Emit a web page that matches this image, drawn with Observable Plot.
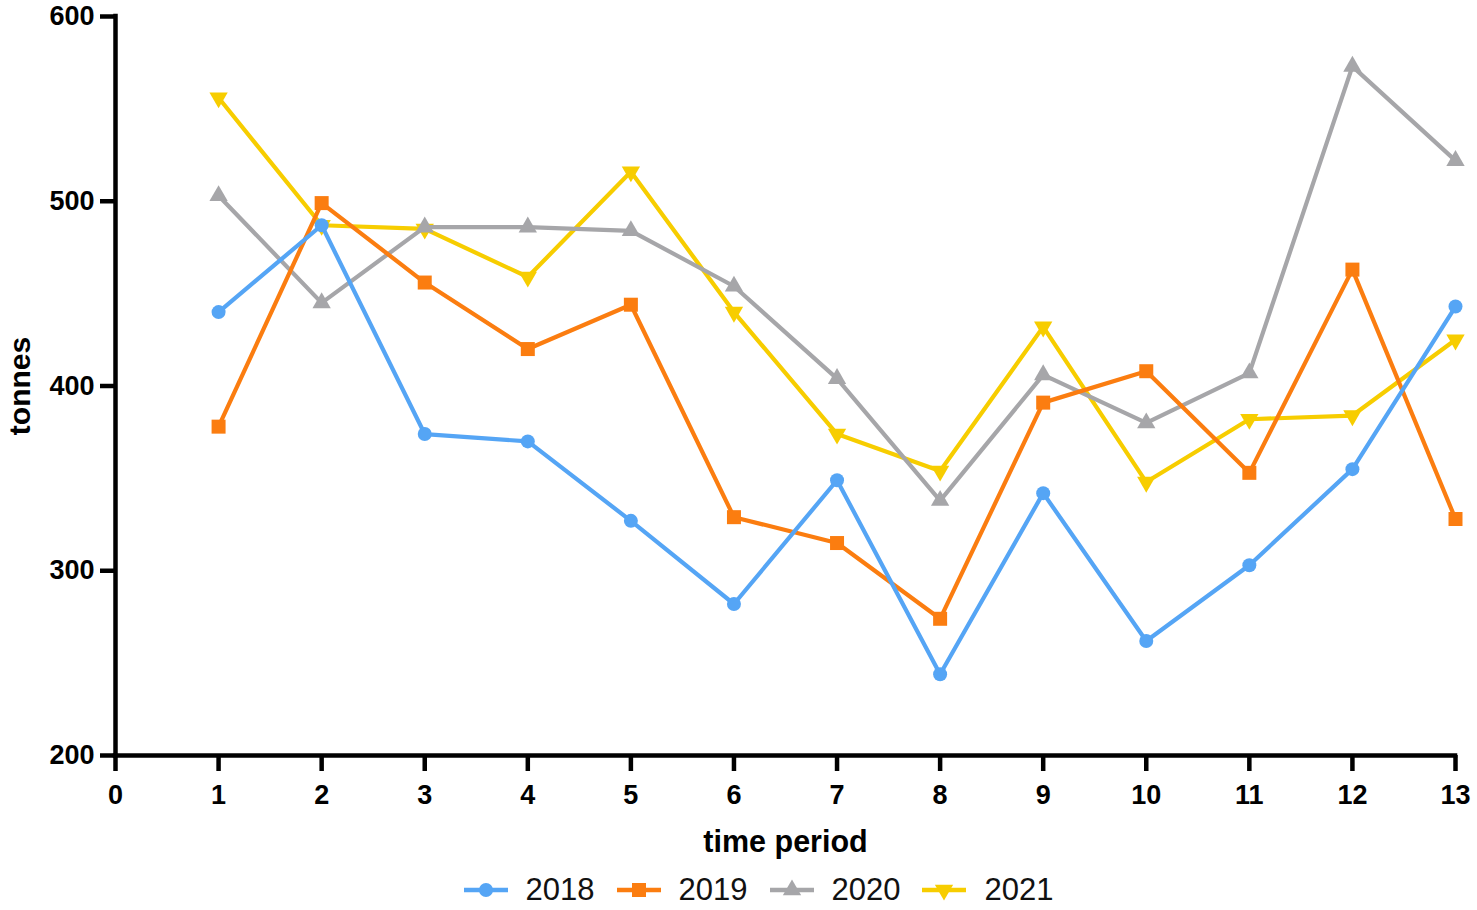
<!DOCTYPE html>
<html>
<head>
<meta charset="utf-8">
<script src="https://cdn.jsdelivr.net/npm/d3@7"></script>
<script src="https://cdn.jsdelivr.net/npm/@observablehq/plot@0.6"></script>
<style>
  body { margin: 0; background: #fff; font-family: "Liberation Sans", Arial, sans-serif; }
  #legend { display: flex; justify-content: center; align-items: center; height: 50px; padding-top: 5px; margin-left: 40px; font-size: 31px; color: #111; }
  .item { display: flex; align-items: center; margin: 0 11px; }
  .item svg { margin-right: 18px; }
</style>
</head>
<body>
<div id="chart"></div>
<div id="legend"></div>
<script>
const periods = [1, 2, 3, 4, 5, 6, 7, 8, 9, 10, 11, 12, 13];
const years = ["2018", "2019", "2020", "2021"];
const s2018 = [440, 487, 374, 370, 327, 282, 349, 244, 342, 262, 303, 355, 443];
const s2019 = [378, 499, 456, 420, 444, 329, 315, 274, 391, 408, 353, 463, 328];
const s2020 = [503, 445, 486, 486, 484, 454, 404, 338, 406, 380, 407, 573, 522];
const s2021 = [556, 487, 485, 459, 516, 440, 374, 354, 432, 348, 382, 384, 425];
const colors = ["#55a5f5", "#fb7d10", "#a6a6a9", "#f7cd00"];
const symbols = ["circle", "square", "triangle", "triangle"];
const radii = [7, 7.9, 6.8, 6.8];
const rotations = [0, 0, 0, 180];
const yTicks = [200, 300, 400, 500, 600];
const xTicks = [0, 1, 2, 3, 4, 5, 6, 7, 8, 9, 10, 11, 12, 13];

const seriesValues = [s2018, s2019, s2020, s2021];
const data = years.flatMap((yr, i) => periods.map((p, j) => ({year: yr, period: p, value: seriesValues[i][j]})));

const seriesMarks = [];
for (let i = years.length - 1; i >= 0; i--) {
  const yr = years[i];
  const sub = data.filter(d => d.year === yr);
  seriesMarks.push(Plot.line(sub, {x: "period", y: "value", stroke: colors[i], strokeWidth: 4.2}));
  seriesMarks.push(Plot.dot(sub, {x: "period", y: "value", fill: colors[i], stroke: "none", symbol: symbols[i], r: radii[i], rotate: rotations[i]}));
}

const chart = Plot.plot({
  width: 1477,
  height: 860,
  marginLeft: 115,
  marginRight: 22,
  marginTop: 16,
  marginBottom: 105,
  style: {fontFamily: "'Liberation Sans', Arial, sans-serif", color: "#000", background: "#fff"},
  x: {domain: [0, 13]},
  y: {domain: [200, 600]},
  marks: [
    Plot.axisY({ticks: yTicks, tickSize: 15, strokeWidth: 4.5, stroke: "#000", tickPadding: 6, fontSize: 27, fontWeight: "bold", fill: "#000", label: null}),
    Plot.axisX({ticks: xTicks, tickSize: 16, strokeWidth: 4.5, stroke: "#000", tickPadding: 13, fontSize: 27, fontWeight: "bold", fill: "#000", label: null}),
    ...seriesMarks,
    Plot.ruleX([0], {y1: 200, y2: 600, strokeWidth: 4.5, stroke: "#000", strokeLinecap: "square"}),
    Plot.ruleY([200], {x1: 0, x2: 13, strokeWidth: 4.5, stroke: "#000", strokeLinecap: "square"}),
    Plot.text(["tonnes"], {text: d => d, frameAnchor: "left", textAnchor: "middle", dx: -95, rotate: -90, fontSize: 30, fontWeight: "bold", fill: "#000"}),
    Plot.text(["time period"], {text: d => d, frameAnchor: "bottom", dy: 96, fontSize: 30.5, fontWeight: "bold", fill: "#000"})
  ]
});
document.getElementById("chart").appendChild(chart);

// legend
const legend = d3.select("#legend");
years.forEach((yr, i) => {
  const item = legend.append("div").attr("class", "item");
  const svg = item.append("svg").attr("width", 44).attr("height", 22);
  svg.append("line").attr("x1", 0).attr("x2", 44).attr("y1", 11).attr("y2", 11).attr("stroke", colors[i]).attr("stroke-width", 4.5);
  const sym = [d3.symbolCircle, d3.symbolSquare, d3.symbolTriangle, d3.symbolTriangle][i];
  const size = Math.PI * radii[i] * radii[i];
  svg.append("path").attr("d", d3.symbol(sym, size)()).attr("fill", colors[i])
    .attr("transform", `translate(22,11) rotate(${rotations[i]})`);
  item.append("span").text(yr);
});
</script>
</body>
</html>
